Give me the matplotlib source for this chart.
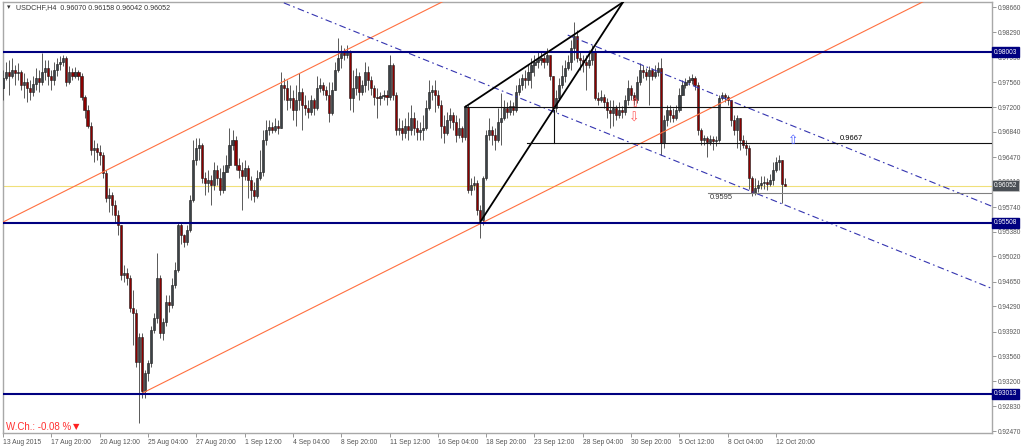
import matplotlib
matplotlib.use("Agg")
import matplotlib.pyplot as plt
import matplotlib.transforms as mtransforms
import numpy as np

plt.rcParams["font.family"] = ["Liberation Sans", "DejaVu Sans"]

# ---- USDCHF H4 candles, prices x 1e4 ----
close_1e4 = [
    9762, 9771, 9766, 9774, 9769, 9771, 9752, 9756, 9748, 9742, 9753, 9762, 9756, 9771, 9777, 9766,
    9759, 9774, 9783, 9785, 9791, 9756, 9771, 9766, 9771, 9766, 9734, 9715, 9693, 9657, 9660, 9654,
    9650, 9623, 9587, 9591, 9577, 9562, 9548, 9475, 9477, 9470, 9426, 9420, 9348, 9384, 9305, 9332,
    9346, 9394, 9412, 9470, 9390, 9406, 9435, 9431, 9460, 9482, 9548, 9533, 9523, 9541, 9584, 9642,
    9660, 9664, 9616, 9609, 9613, 9606, 9628, 9616, 9599, 9625, 9635, 9664, 9672, 9635, 9628, 9620,
    9631, 9613, 9599, 9590, 9616, 9625, 9672, 9686, 9691, 9686, 9693, 9689, 9752, 9748, 9730, 9733,
    9715, 9730, 9742, 9723, 9718, 9712, 9730, 9718, 9748, 9752, 9745, 9737, 9711, 9745, 9774, 9791,
    9800, 9796, 9800, 9733, 9748, 9766, 9742, 9752, 9771, 9759, 9748, 9734, 9733, 9736, 9737, 9734,
    9781, 9737, 9686, 9689, 9682, 9693, 9686, 9704, 9689, 9683, 9686, 9689, 9718, 9742, 9745, 9737,
    9723, 9693, 9682, 9701, 9708, 9698, 9679, 9689, 9676, 9720, 9599, 9606, 9609, 9569, 9555, 9616,
    9679, 9686, 9679, 9672, 9698, 9704, 9718, 9712, 9721, 9715, 9742, 9752, 9762, 9759, 9771, 9781,
    9785, 9788, 9791, 9785, 9796, 9766, 9718, 9733, 9752, 9766, 9777, 9785, 9806, 9823, 9791, 9788,
    9785, 9781, 9788, 9800, 9733, 9730, 9734, 9727, 9715, 9711, 9718, 9708, 9715, 9712, 9730, 9748,
    9737, 9730, 9756, 9774, 9771, 9766, 9774, 9765, 9771, 9777, 9667, 9701, 9715, 9708, 9704, 9715,
    9737, 9752, 9756, 9759, 9762, 9752, 9686, 9672, 9675, 9669, 9673, 9670, 9672, 9733, 9737, 9734,
    9730, 9701, 9686, 9704, 9672, 9664, 9660, 9616, 9594, 9602, 9606, 9609, 9610, 9607, 9613, 9628,
    9640, 9642, 9607, 9605,
]
high_1e4 = [
    9774, 9785, 9788, 9791, 9781, 9784, 9774, 9769, 9762, 9759, 9766, 9777, 9774, 9799, 9788, 9788,
    9774, 9785, 9791, 9794, 9796, 9794, 9780, 9777, 9778, 9774, 9769, 9737, 9723, 9698, 9672, 9667,
    9664, 9654, 9628, 9602, 9596, 9584, 9569, 9548, 9489, 9485, 9475, 9453, 9425, 9390, 9390, 9336,
    9350, 9400, 9420, 9507, 9475, 9412, 9445, 9445, 9470, 9494, 9552, 9552, 9535, 9548, 9591, 9672,
    9675, 9675, 9667, 9625, 9628, 9621, 9640, 9635, 9631, 9635, 9650, 9689, 9686, 9677, 9645, 9640,
    9642, 9635, 9620, 9610, 9628, 9657, 9686, 9701, 9701, 9698, 9704, 9701, 9771, 9762, 9759, 9752,
    9745, 9752, 9769, 9748, 9737, 9730, 9737, 9733, 9766, 9762, 9756, 9750, 9756, 9756, 9785, 9821,
    9810, 9806, 9810, 9803, 9774, 9777, 9771, 9759, 9785, 9780, 9766, 9752, 9748, 9742, 9745, 9745,
    9796, 9784, 9742, 9704, 9701, 9704, 9712, 9723, 9712, 9701, 9698, 9708, 9730, 9759, 9752, 9759,
    9745, 9730, 9708, 9712, 9718, 9712, 9708, 9704, 9693, 9723, 9723, 9616, 9620, 9613, 9577, 9620,
    9686, 9704, 9693, 9689, 9718, 9740, 9730, 9727, 9730, 9727, 9752, 9762, 9768, 9774, 9781, 9791,
    9796, 9800, 9800, 9796, 9806, 9796, 9766, 9745, 9762, 9781, 9788, 9796, 9818, 9844, 9832, 9800,
    9796, 9796, 9803, 9810, 9806, 9742, 9745, 9739, 9733, 9730, 9730, 9723, 9727, 9721, 9737, 9759,
    9752, 9742, 9766, 9784, 9781, 9777, 9780, 9777, 9781, 9785, 9791, 9708, 9723, 9723, 9718, 9723,
    9748, 9759, 9762, 9765, 9768, 9765, 9756, 9689, 9679, 9677, 9679, 9677, 9677, 9737, 9742, 9740,
    9737, 9730, 9708, 9708, 9704, 9679, 9672, 9664, 9620, 9616, 9613, 9620, 9620, 9616, 9622, 9640,
    9647, 9650, 9642, 9616,
]
low_1e4 = [
    9730, 9759, 9737, 9762, 9752, 9759, 9745, 9733, 9727, 9730, 9736, 9745, 9742, 9752, 9759, 9752,
    9745, 9752, 9766, 9774, 9780, 9750, 9753, 9759, 9762, 9759, 9730, 9704, 9689, 9650, 9640, 9642,
    9635, 9616, 9581, 9567, 9562, 9552, 9533, 9467, 9464, 9460, 9421, 9372, 9340, 9258, 9295, 9295,
    9320, 9340, 9390, 9405, 9383, 9380, 9400, 9421, 9426, 9456, 9479, 9520, 9515, 9518, 9538, 9581,
    9635, 9642, 9609, 9591, 9596, 9577, 9599, 9606, 9591, 9594, 9625, 9631, 9657, 9628, 9616, 9569,
    9613, 9587, 9584, 9581, 9587, 9613, 9620, 9664, 9679, 9682, 9683, 9680, 9689, 9730, 9715, 9718,
    9701, 9693, 9715, 9686, 9708, 9704, 9708, 9708, 9715, 9742, 9737, 9730, 9698, 9708, 9745, 9771,
    9777, 9788, 9791, 9715, 9712, 9737, 9730, 9737, 9742, 9745, 9737, 9723, 9704, 9723, 9730, 9723,
    9730, 9730, 9679, 9679, 9672, 9675, 9672, 9679, 9679, 9672, 9672, 9672, 9686, 9715, 9730, 9712,
    9718, 9675, 9667, 9679, 9689, 9686, 9669, 9675, 9669, 9672, 9594, 9591, 9599, 9562, 9529, 9548,
    9613, 9672, 9664, 9657, 9669, 9664, 9701, 9704, 9708, 9708, 9712, 9737, 9745, 9748, 9752, 9748,
    9766, 9777, 9781, 9777, 9781, 9759, 9712, 9712, 9730, 9748, 9756, 9774, 9774, 9788, 9785, 9774,
    9771, 9745, 9777, 9781, 9730, 9723, 9727, 9718, 9704, 9689, 9693, 9701, 9704, 9704, 9708, 9723,
    9730, 9723, 9726, 9752, 9762, 9759, 9723, 9759, 9762, 9765, 9650, 9660, 9693, 9698, 9698, 9701,
    9712, 9737, 9748, 9752, 9753, 9745, 9679, 9664, 9664, 9647, 9664, 9657, 9663, 9669, 9730, 9727,
    9723, 9693, 9679, 9660, 9657, 9660, 9650, 9601, 9590, 9591, 9596, 9601, 9601, 9599, 9604, 9606,
    9625, 9628, 9580, 9604,
]
first_open = 0.9748

time_labels = ["13 Aug 2015", "17 Aug 20:00", "20 Aug 12:00", "25 Aug 04:00", "27 Aug 20:00",
               "1 Sep 12:00", "4 Sep 04:00", "8 Sep 20:00", "11 Sep 12:00", "16 Sep 04:00",
               "18 Sep 20:00", "23 Sep 12:00", "28 Sep 04:00", "30 Sep 20:00", "5 Oct 12:00",
               "8 Oct 04:00", "12 Oct 20:00"]
bars_per_label = 16
price_ticks = [0.98660, 0.98290, 0.97930, 0.97560, 0.97200, 0.96840, 0.96470, 0.96110, 0.95740,
               0.95380, 0.95020, 0.94650, 0.94290, 0.93920, 0.93560, 0.93200, 0.92830, 0.92470]

# ---- objects drawn on the chart: (bar, price) anchors ----
levels = [0.98003, 0.95508, 0.93013]
bid = 0.96052
channel_upper = [(0, 0.9552), (100, 0.9773)]
channel_lower = [(46, 0.9302), (146, 0.9523)]
desc_lower = [(93, 0.9872), (327.5, 0.9455)]
desc_upper = [(187, 0.9825), (327.5, 0.9575)]
wedge_upper = [(153, 0.9720), (205.3, 0.9873)]
wedge_lower = [(158, 0.9552), (205.3, 0.9873)]
neckline = (153, 0.9720)
target = (173.6, 0.9667)
drop = (182.5, 0.97160, 0.9667)
low_mark = (233.4, 0.9595)
arrows = [(209.3, 0.97258, "\u21e7", "#ff5a5a"), (209.0, 0.97039, "\u21e9", "#ff5a5a"),
          (261.6, 0.96718, "\u21e7", "#4a5cff")]
ohlc_text = "USDCHF,H4  0.96070 0.96158 0.96042 0.96052"
week_change = "W.Ch.: -0.08 %"

closes = np.array(close_1e4) / 1e4
highs = np.array(high_1e4) / 1e4
lows = np.array(low_1e4) / 1e4
opens = np.concatenate([[first_open], closes[:-1]])
idx = np.arange(len(closes))

W, H = 1024, 447
fig = plt.figure(figsize=(W / 100, H / 100), dpi=100)
fig.patch.set_facecolor("white")
ax = fig.add_axes([3 / W, (H - 433) / H, 989 / W, 431 / H])
x_end = 327.5
ax.set_xlim(0, x_end)
ax.set_ylim(0.92441, 0.98733)

# candles
ax.vlines(idx, lows, highs, color="#585858", lw=0.7, zorder=3)
bottom = np.minimum(opens, closes)
height = np.abs(closes - opens)
up = closes >= opens
ax.bar(idx[up], height[up], bottom=bottom[up], width=0.7, color="#3c4247",
       edgecolor="#1a1a1a", lw=0.4, zorder=4)
ax.bar(idx[~up], height[~up], bottom=bottom[~up], width=0.7, color="#8b0000",
       edgecolor="#1a1a1a", lw=0.4, zorder=4)


def ray(p0, p1, **kw):
    (x0, y0), (x1, y1) = p0, p1
    k = (y1 - y0) / (x1 - x0)
    ax.plot([x0, x_end + 5], [y0, y0 + k * (x_end + 5 - x0)], **kw)


for lv in levels:
    ax.axhline(lv, color="#000080", lw=1.5, zorder=6)
ax.axhline(bid, color="#f0e07a", lw=0.8, zorder=2)

ray(*channel_upper, color="#ff7040", lw=0.8, zorder=5)
ray(*channel_lower, color="#ff7040", lw=0.8, zorder=5)
dash = (0, (6, 3, 1.5, 3))
ray(*desc_lower, color="#3434b0", lw=0.8, ls=dash, zorder=5)
ray(*desc_upper, color="#3434b0", lw=0.8, ls=dash, zorder=5)
for seg in (wedge_upper, wedge_lower):
    ax.plot([seg[0][0], seg[1][0]], [seg[0][1], seg[1][1]], color="black", lw=1.3, zorder=6)
ax.plot([neckline[0], x_end], [neckline[1]] * 2, color="#111111", lw=0.8, zorder=6)
ax.plot([target[0], x_end], [target[1]] * 2, color="#111111", lw=0.8, zorder=6)
ax.plot([drop[0]] * 2, [drop[1], drop[2]], color="#111111", lw=0.8, zorder=6)
ax.plot([low_mark[0], x_end], [low_mark[1]] * 2, color="#808080", lw=0.8, zorder=6)
ax.text(277, target[1] + 0.0002, "0.9667", fontsize=5.4, color="black", va="bottom", zorder=7)
ax.text(low_mark[0] + 0.7, low_mark[1] - 0.0002, "0.9595", fontsize=5.4, color="#333333",
        va="top", zorder=7)
for xa, ya, ch, col in arrows:
    ax.text(xa, ya, ch, fontsize=9, color=col, ha="center", va="center",
            family=["DejaVu Sans"], zorder=7)

# texts in the corners
ax.text(0.004, 0.988, "\u25be", transform=ax.transAxes, fontsize=5, color="#333333",
        va="center", family=["DejaVu Sans"])
ax.text(0.013, 0.988, ohlc_text, transform=ax.transAxes, fontsize=5.1, color="#333333",
        va="center")
ax.text(0.003, 0.014, week_change, transform=ax.transAxes, fontsize=7,
        color="#ff3030", va="center")
ax.text(0.0745, 0.016, "\u25bc", transform=ax.transAxes, fontsize=6,
        color="#ff2020", ha="center", va="center", family=["DejaVu Sans"])

# axes
for s in ax.spines.values():
    s.set_color("#a8a8a8")
    s.set_linewidth(1.0)
ax.yaxis.tick_right()
ax.set_yticks(price_ticks)
ax.set_yticklabels([f"{p:.5f}" for p in price_ticks])
ax.set_xticks(np.arange(len(time_labels)) * bars_per_label)
ax.set_xticklabels(time_labels, ha="left")
ax.tick_params(axis="y", length=3, width=0.6, color="#888888", labelsize=4.7,
               labelcolor="#555555", pad=1)
ax.tick_params(axis="x", length=3, width=0.6, color="#888888", labelsize=4.9,
               labelcolor="#555555", pad=1.5)

ytrans = mtransforms.blended_transform_factory(ax.transAxes, ax.transData)
for lv in levels:
    ax.text(1.002, lv, f"{lv:.5f}", transform=ytrans, fontsize=4.7, color="white",
            va="center", ha="left", clip_on=False, zorder=10,
            bbox=dict(boxstyle="square,pad=0.25", fc="#000080", ec="#000080"))
ax.text(1.002, bid, f"{bid:.5f}", transform=ytrans, fontsize=4.7, color="white",
        va="center", ha="left", clip_on=False, zorder=10,
        bbox=dict(boxstyle="square,pad=0.3", fc="#4a4f55", ec="#cccccc", lw=0.4))

fig.savefig("out.png", dpi=100, facecolor="white")
